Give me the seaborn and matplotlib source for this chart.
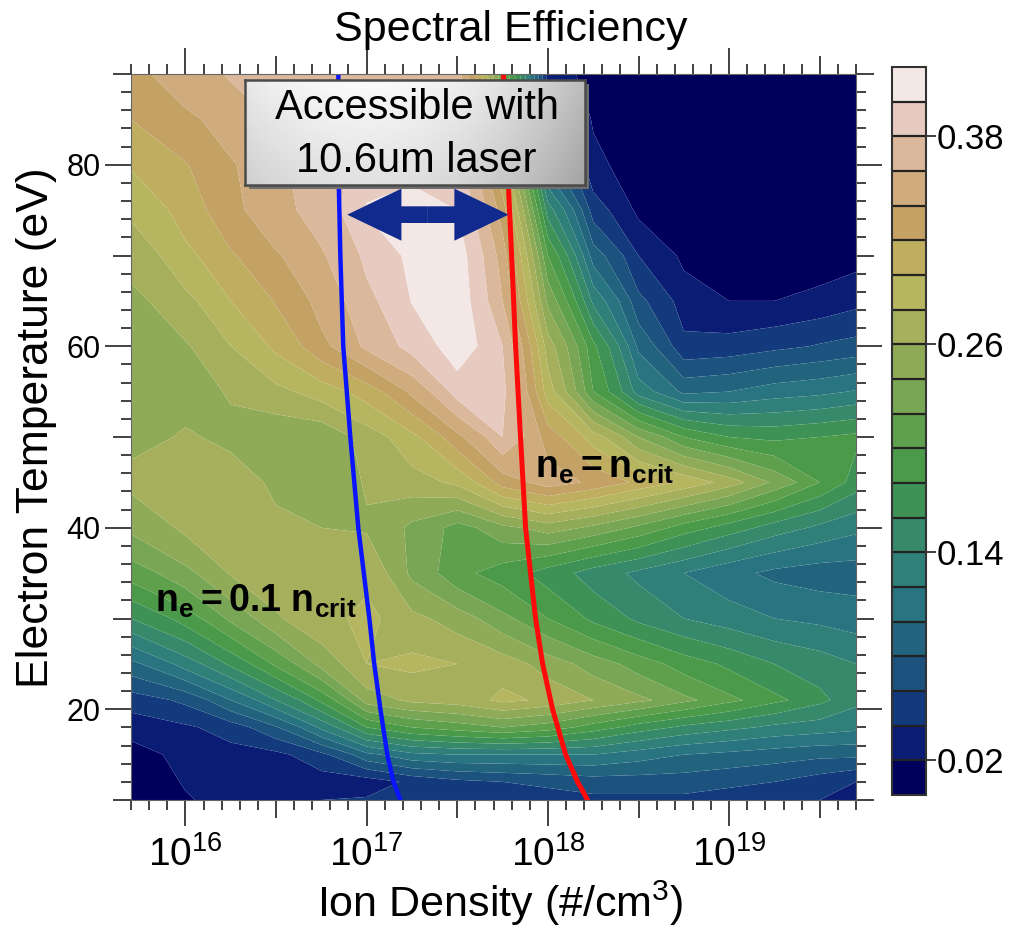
import numpy as np
import matplotlib
matplotlib.use("Agg")
import matplotlib.pyplot as plt
import seaborn as sns
from matplotlib.colors import ListedColormap, BoundaryNorm
from matplotlib.ticker import FixedLocator, NullLocator, FixedFormatter, NullFormatter
from matplotlib.patches import FancyArrowPatch, Rectangle

# ---------------- data ----------------
# log10 of ion density (#/cm^3) for the grid columns
log_density = [15.7, 16.0, 16.25, 16.5, 16.75, 17.0, 17.25, 17.5, 17.75,
               18.0, 18.25, 18.5, 18.75, 19.0, 19.25, 19.5, 19.7]
# electron temperature (eV) for the grid rows
temperature = [10, 12, 15, 18, 21, 25, 30, 35, 40, 45, 50, 55, 60, 65, 70, 75, 80, 85, 90]

# spectral efficiency, one row per temperature
efficiency = [
    [0.008, 0.018, 0.030, 0.035, 0.040, 0.042, 0.045, 0.045, 0.050, 0.050, 0.055, 0.055, 0.055, 0.050, 0.045, 0.040, 0.025],
    [0.008, 0.022, 0.025, 0.027, 0.030, 0.030, 0.045, 0.055, 0.060, 0.065, 0.070, 0.070, 0.070, 0.065, 0.060, 0.050, 0.040],
    [0.012, 0.028, 0.032, 0.035, 0.055, 0.095, 0.115, 0.120, 0.120, 0.120, 0.120, 0.110, 0.100, 0.095, 0.090, 0.085, 0.085],
    [0.028, 0.037, 0.050, 0.078, 0.125, 0.180, 0.200, 0.210, 0.220, 0.210, 0.190, 0.170, 0.155, 0.145, 0.135, 0.130, 0.125],
    [0.050, 0.065, 0.100, 0.140, 0.185, 0.250, 0.265, 0.270, 0.285, 0.275, 0.260, 0.245, 0.225, 0.205, 0.185, 0.165, 0.145],
    [0.095, 0.130, 0.165, 0.205, 0.248, 0.280, 0.285, 0.280, 0.270, 0.250, 0.230, 0.210, 0.190, 0.175, 0.160, 0.150, 0.140],
    [0.160, 0.190, 0.225, 0.258, 0.275, 0.285, 0.265, 0.250, 0.225, 0.200, 0.175, 0.155, 0.140, 0.130, 0.120, 0.115, 0.110],
    [0.210, 0.235, 0.262, 0.270, 0.275, 0.275, 0.235, 0.205, 0.190, 0.170, 0.150, 0.135, 0.120, 0.105, 0.095, 0.090, 0.090],
    [0.245, 0.265, 0.270, 0.265, 0.260, 0.258, 0.235, 0.212, 0.235, 0.250, 0.235, 0.215, 0.190, 0.170, 0.150, 0.135, 0.125],
    [0.265, 0.272, 0.270, 0.255, 0.248, 0.262, 0.272, 0.285, 0.330, 0.350, 0.335, 0.315, 0.295, 0.270, 0.235, 0.200, 0.170],
    [0.255, 0.262, 0.255, 0.245, 0.245, 0.270, 0.295, 0.335, 0.380, 0.330, 0.290, 0.240, 0.200, 0.180, 0.175, 0.180, 0.185],
    [0.250, 0.253, 0.262, 0.275, 0.290, 0.310, 0.345, 0.390, 0.385, 0.290, 0.200, 0.130, 0.095, 0.100, 0.110, 0.115, 0.122],
    [0.250, 0.258, 0.280, 0.305, 0.335, 0.365, 0.388, 0.412, 0.380, 0.270, 0.185, 0.095, 0.045, 0.048, 0.055, 0.062, 0.067],
    [0.255, 0.275, 0.300, 0.322, 0.348, 0.375, 0.401, 0.412, 0.360, 0.235, 0.135, 0.065, 0.030, 0.020, 0.020, 0.026, 0.034],
    [0.268, 0.295, 0.318, 0.338, 0.358, 0.385, 0.406, 0.410, 0.350, 0.200, 0.090, 0.040, 0.015, 0.008, 0.006, 0.008, 0.012],
    [0.284, 0.310, 0.335, 0.355, 0.368, 0.402, 0.406, 0.400, 0.330, 0.150, 0.050, 0.015, 0.006, 0.005, 0.005, 0.005, 0.006],
    [0.302, 0.319, 0.338, 0.357, 0.370, 0.390, 0.395, 0.390, 0.300, 0.090, 0.025, 0.008, 0.004, 0.004, 0.004, 0.004, 0.004],
    [0.320, 0.336, 0.350, 0.362, 0.372, 0.380, 0.385, 0.380, 0.260, 0.050, 0.018, 0.005, 0.003, 0.003, 0.003, 0.003, 0.003],
    [0.335, 0.352, 0.362, 0.368, 0.372, 0.375, 0.375, 0.370, 0.220, 0.030, 0.012, 0.004, 0.002, 0.002, 0.002, 0.002, 0.002],
]

# contour band edges and fill colours (low -> high)
band_levels = [round(0.02 * i, 2) for i in range(22)]
band_colors = ['#00005c', '#0a1c74', '#123a7c', '#1b527e', '#22647e', '#287480',
               '#2e8078', '#36896a', '#3f9256', '#4a9a4a', '#5ea04c', '#78a654',
               '#8fab58', '#a6b05c', '#b6b560', '#c0ae60', '#c4a266', '#cfab7e',
               '#dbb89c', '#e7cbc1', '#f3e8e6']
cbar_ticks = [0.02, 0.14, 0.26, 0.38]

# density curves: n_e = 0.1 n_crit and n_e = n_crit (log10 ion density vs T)
curve_T = [10, 12, 15, 20, 25, 30, 40, 50, 60, 70, 80, 90]
tenth_crit_logn = [17.186, 17.148, 17.114, 17.076, 17.042, 17.015, 16.954, 16.91, 16.871, 16.855, 16.844, 16.844]
crit_logn = [18.219, 18.164, 18.098, 18.026, 17.971, 17.932, 17.877, 17.849, 17.822, 17.80, 17.777, 17.755]

# accessible range arrow (log10 density endpoints, temperature)
arrow_logn = [16.893, 17.783]
arrow_T = 74.5

x_major = [16, 17, 18, 19]
x_labels = [r'$10^{16}$', r'$10^{17}$', r'$10^{18}$', r'$10^{19}$']
y_major = [20, 40, 60, 80]

# ---------------- style ----------------
sns.set_style("ticks")
plt.rcParams['font.family'] = ['Liberation Sans', 'DejaVu Sans']
plt.rcParams['mathtext.fontset'] = 'custom'
plt.rcParams['mathtext.rm'] = 'Liberation Sans'
plt.rcParams['mathtext.it'] = 'Liberation Sans:italic'
plt.rcParams['mathtext.bf'] = 'Liberation Sans:bold'
plt.rcParams['text.color'] = 'black'
plt.rcParams['axes.labelcolor'] = 'black'
plt.rcParams['xtick.labelcolor'] = 'black'
plt.rcParams['ytick.labelcolor'] = 'black'

W, H = 1028, 927
fig = plt.figure(figsize=(W / 100, H / 100), dpi=100)
fig.patch.set_facecolor('white')

def fx(px):
    return px / W

def fy(py):
    return 1 - py / H

ax = fig.add_axes([fx(131), fy(800), fx(856) - fx(131), fy(74) - fy(800)])

X, Y = np.meshgrid(10 ** np.array(log_density), np.array(temperature))
Z = np.array(efficiency)
cmap = ListedColormap(band_colors)
norm = BoundaryNorm(band_levels, cmap.N)
cs = ax.contourf(X, Y, Z, levels=band_levels, cmap=cmap, norm=norm, antialiased=True)

ax.set_xscale('log')
ax.set_xlim(10 ** 15.7, 10 ** 19.7)
ax.set_ylim(10, 90)

# critical density curves
sns.lineplot(x=10 ** np.array(tenth_crit_logn), y=curve_T, orient='y', sort=False,
             estimator=None, color='#0a14ff', lw=3.2, ax=ax)
sns.lineplot(x=10 ** np.array(crit_logn), y=curve_T, orient='y', sort=False,
             estimator=None, color='#ff0a0a', lw=3.6, ax=ax)

# double-headed arrow
mid = 10 ** (0.5 * (arrow_logn[0] + arrow_logn[1]))
for end in arrow_logn:
    ax.add_patch(FancyArrowPatch((mid, arrow_T), (10 ** end, arrow_T),
                                 arrowstyle='simple,head_length=1.3,head_width=1.25,tail_width=0.4',
                                 mutation_scale=30, color='#112a8e', lw=0,
                                 shrinkA=0, shrinkB=0, zorder=5))

# curve labels
ax.text(10 ** 15.83, 30.7, r'$\mathbf{n_e = 0.1\ n_{crit}}$', fontsize=27,
        ha='left', va='baseline', color='black', zorder=6)
ax.text(10 ** 17.93, 45.5, r'$\mathbf{n_e = n_{crit}}$', fontsize=27,
        ha='left', va='baseline', color='black', zorder=6)

# ticks
tick_col = '#333333'
minor_x = [10 ** (k / 10) for k in range(157, 198) if k % 5 != 0]
ax.xaxis.set_major_locator(FixedLocator([10.0 ** v for v in x_major]))
ax.xaxis.set_major_formatter(FixedFormatter(x_labels))
ax.xaxis.set_minor_locator(FixedLocator(minor_x))
ax.xaxis.set_minor_formatter(NullFormatter())
ax.yaxis.set_major_locator(FixedLocator(y_major))
ax.yaxis.set_minor_locator(FixedLocator([v for v in range(10, 91, 2) if v % 10 != 0]))
ax.tick_params(which='both', direction='out', top=True, right=True, color=tick_col, width=1.3)
ax.tick_params(which='major', length=19)
ax.tick_params(which='minor', length=7.5)
ax.tick_params(axis='x', which='major', labelsize=28, pad=7)
ax.tick_params(axis='y', which='major', labelsize=22, pad=3)
for s in ax.spines.values():
    s.set_color('#666666')
    s.set_linewidth(0.8)

# medium-length ticks at half decades and odd tens
for side in ('top', 'bottom'):
    sx = ax.secondary_xaxis(side)
    sx.xaxis.set_major_locator(FixedLocator([10 ** 16.5, 10 ** 17.5, 10 ** 18.5, 10 ** 19.5]))
    sx.xaxis.set_minor_locator(NullLocator())
    sx.xaxis.set_major_formatter(NullFormatter())
    sx.tick_params(direction='out', length=13, width=1.3, color=tick_col)
    sx.spines[side].set_visible(False)
for side in ('left', 'right'):
    sy = ax.secondary_yaxis(side)
    sy.yaxis.set_major_locator(FixedLocator([10, 30, 50, 70, 90]))
    sy.yaxis.set_minor_locator(NullLocator())
    sy.yaxis.set_major_formatter(NullFormatter())
    sy.tick_params(direction='out', length=13, width=1.3, color=tick_col)
    sy.spines[side].set_visible(False)

# axis titles
fig.text(fx(511), fy(30), 'Spectral Efficiency', fontsize=31, ha='center', va='center')
fig.text(fx(500), fy(903), 'Ion Density (#/cm$^3$)', fontsize=31, ha='center', va='center')
fig.text(fx(37), fy(428), 'Electron Temperature (eV)', fontsize=32, ha='center', va='center',
         rotation=90)

# colour bar
cax = fig.add_axes([fx(892), fy(795), fx(926) - fx(892), fy(67) - fy(795)])
cb = fig.colorbar(cs, cax=cax, ticks=cbar_ticks, drawedges=True)
cb.ax.yaxis.set_major_formatter(FixedFormatter(['%.2f' % t for t in cbar_ticks]))
cb.outline.set_edgecolor('#333333')
cb.outline.set_linewidth(1.5)
cb.dividers.set_color('#222222')
cb.dividers.set_linewidth(1.6)
cb.ax.tick_params(direction='out', length=7, width=1.3, color=tick_col, labelsize=25, pad=1)
cb.ax.minorticks_off()

# annotation box with shadow and soft gradient
bx0, by0, bx1, by1 = 245, 80, 585, 185
fig.patches.append(Rectangle((fx(bx0 + 4), fy(by1 + 4)), fx(bx1 - bx0), fy(by0) - fy(by1),
                             transform=fig.transFigure, facecolor='#6e6e6e', edgecolor='none',
                             zorder=3))
bax = fig.add_axes([fx(bx0), fy(by1), fx(bx1) - fx(bx0), fy(by0) - fy(by1)], zorder=4)
gx, gy = np.meshgrid(np.linspace(0, 1, 200), np.linspace(0, 1, 60))
grad = 0.98 - 0.24 * ((gx - 0.35) / 0.65) ** 2 - 0.10 * gy
bax.imshow(grad, cmap='gray', vmin=0, vmax=1, aspect='auto', extent=(0, 1, 1, 0))
bax.set_xlim(0, 1)
bax.set_ylim(1, 0)
bax.set_xticks([])
bax.set_yticks([])
for s in bax.spines.values():
    s.set_color('#4a4a4a')
    s.set_linewidth(1.8)
bax.text(0.505, 0.27, 'Accessible with', fontsize=30, ha='center', va='center')
bax.text(0.505, 0.77, '10.6um laser', fontsize=30, ha='center', va='center')

fig.savefig('out.png', dpi=100, facecolor='white')
